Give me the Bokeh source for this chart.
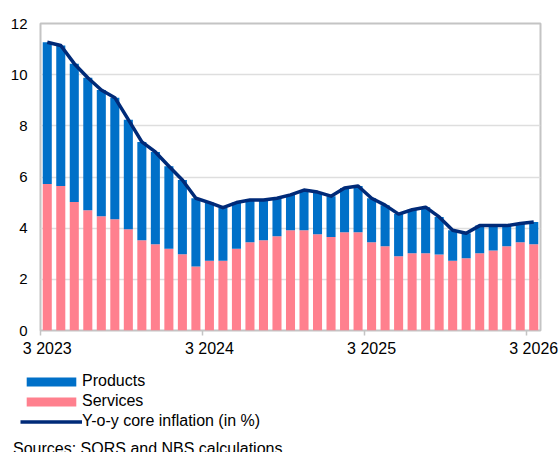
import numpy as np
from bokeh.plotting import figure
from bokeh.layouts import column
from bokeh.models import (ColumnDataSource, Range1d, LinearAxis, FixedTicker,
                          Legend, LegendItem, Label)
from bokeh.embed import file_html
from bokeh.resources import INLINE

# ---- data (March 2023 .. March 2026), contributions in pp ----
n_months = 37
months = [f"{(2 + i) % 12 + 1} {2023 + (2 + i) // 12}" for i in range(n_months)]

services = [5.73, 5.65, 5.02, 4.70, 4.47, 4.35, 3.96, 3.53, 3.37, 3.20,
            2.98, 2.50, 2.73, 2.73, 3.20, 3.45, 3.53, 3.68, 3.92, 3.92,
            3.76, 3.65, 3.84, 3.84, 3.45, 3.29, 2.90, 3.02, 3.02, 2.97,
            2.73, 2.82, 3.02, 3.13, 3.29, 3.45, 3.37]
products = [5.54, 5.49, 5.41, 5.18, 4.93, 4.75, 4.28, 3.84, 3.61, 3.22,
            2.90, 2.67, 2.27, 2.07, 1.80, 1.65, 1.57, 1.49, 1.38, 1.57,
            1.65, 1.60, 1.73, 1.81, 1.72, 1.61, 1.65, 1.70, 1.80, 1.47,
            1.19, 0.98, 1.08, 0.97, 0.81, 0.73, 0.87]
core = [11.27, 11.14, 10.43, 9.88, 9.40, 9.10, 8.24, 7.37, 6.98, 6.42,
        5.88, 5.17, 5.00, 4.80, 5.00, 5.10, 5.10, 5.17, 5.30, 5.49,
        5.41, 5.25, 5.57, 5.65, 5.17, 4.90, 4.55, 4.72, 4.82, 4.44,
        3.92, 3.80, 4.10, 4.10, 4.10, 4.18, 4.24]

y_ticks = [0, 2, 4, 6, 8, 10, 12]
series_names = ["Products", "Services", "Y-o-y core inflation (in %)"]
source_note = "Sources: SORS and NBS calculations."

BLUE = "#0070C8"
PINK = "#FF808E"
NAVY = "#002A78"
FONT = "Liberation Sans"
FS = "16px"
FS_Y = "15px"

x = np.arange(n_months) + 0.5
src = ColumnDataSource(dict(x=x, month=months, services=services,
                            products=products, core=core))

# ---------------- main chart ----------------
p = figure(width=559, height=362, x_range=Range1d(0, n_months),
           y_range=Range1d(0, 12), output_backend="svg",
           toolbar_location=None)
p.min_border_left = 40
p.min_border_right = 19
p.min_border_top = 23
p.min_border_bottom = 32
p.background_fill_color = "white"
p.border_fill_color = "white"
p.outline_line_color = "#c4c4c4"
p.outline_line_width = 2

p.xgrid.grid_line_color = None
p.ygrid.ticker = FixedTicker(ticks=y_ticks)
p.ygrid.grid_line_color = "#dedede"
p.ygrid.grid_line_width = 1.5

ya = p.yaxis[0]
ya.ticker = FixedTicker(ticks=y_ticks)
ya.axis_line_color = None
ya.major_tick_out = 0
ya.major_tick_in = 0
ya.minor_tick_out = 0
ya.minor_tick_in = 0
ya.major_label_standoff = 13
ya.major_label_text_font = FONT
ya.major_label_text_font_size = FS_Y
ya.major_label_text_color = "black"

# x axis 1: tick marks at year boundaries (no labels)
starts = [i for i, m in enumerate(months) if m.startswith("3 ")]
xa = p.xaxis[0]
xa.ticker = FixedTicker(ticks=[float(i) for i in starts])
xa.axis_line_color = None
xa.major_tick_out = 5
xa.major_tick_in = 0
xa.major_tick_line_color = "#c4c4c4"
xa.major_tick_line_width = 1.5
xa.minor_tick_out = 0
xa.minor_tick_in = 0
xa.major_label_text_font_size = "0px"
xa.major_label_standoff = 0

# x axis 2: labels centred on the March bars
xa2 = LinearAxis(ticker=FixedTicker(ticks=[i + 0.5 for i in starts]),
                 major_label_overrides={i + 0.5: months[i] for i in starts})
xa2.axis_line_color = None
xa2.major_tick_out = 0
xa2.major_tick_in = 0
xa2.minor_tick_out = 0
xa2.minor_tick_in = 0
xa2.major_label_standoff = 4
xa2.major_label_text_font = FONT
xa2.major_label_text_font_size = FS
xa2.major_label_text_color = "black"
p.add_layout(xa2, "below")

p.vbar_stack(["services", "products"], x="x", width=0.67,
             color=[PINK, BLUE], line_color=None, source=src)
p.line("x", "core", source=src, line_color=NAVY, line_width=3.5,
       line_join="round")

# ---------------- legend + source note ----------------
# same series, drawn off-range so only their legend glyphs show
p2 = figure(width=559, height=90, x_range=Range1d(0, n_months),
            y_range=Range1d(100, 101), output_backend="svg",
            toolbar_location=None, x_axis_location=None, y_axis_location=None)
p2.min_border = 0
p2.outline_line_color = None
p2.grid.grid_line_color = None
p2.background_fill_color = "white"
p2.border_fill_color = "white"
p2.styles = {"margin-left": "-40px"}

r_serv, r_prod = p2.vbar_stack(["services", "products"], x="x", width=0.67,
                               color=[PINK, BLUE], line_color=None, source=src)
r_core = p2.line("x", "core", source=src, line_color=NAVY, line_width=3.5)

legend = Legend(items=[LegendItem(label=series_names[0], renderers=[r_prod]),
                       LegendItem(label=series_names[1], renderers=[r_serv]),
                       LegendItem(label=series_names[2], renderers=[r_core])],
                location=(20, 21.5))
legend.padding = 0
legend.margin = 0
legend.spacing = 1
legend.border_line_color = None
legend.background_fill_alpha = 0
legend.glyph_width = 62
legend.glyph_height = 11
legend.label_standoff = 0
legend.label_height = 19
legend.label_text_font = FONT
legend.label_text_font_size = FS
legend.label_text_color = "black"
p2.add_layout(legend)

p2.add_layout(Label(x=12.5, y=4.5, x_units="screen", y_units="screen",
                    text=source_note, text_font=FONT, text_font_size=FS,
                    text_color="black", text_baseline="alphabetic"))

open("out.html", "w").write(file_html(column(p, p2, spacing=0), INLINE))
